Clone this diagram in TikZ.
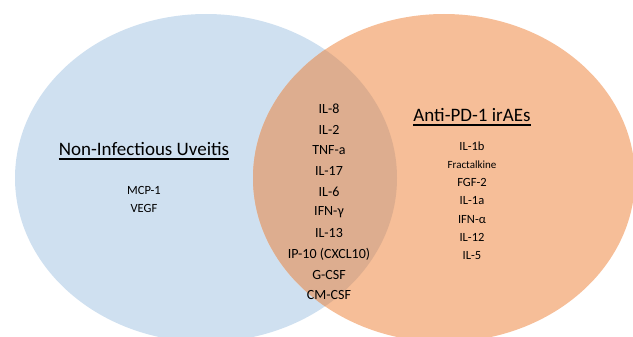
\documentclass[tikz,border=0pt]{standalone}
\usepackage{fontspec}
\setmainfont{Carlito}
\definecolor{vblue}{RGB}{207,224,240}
\definecolor{vorange}{RGB}{246,190,152}
\definecolor{vmix}{RGB}{221,173,143}
\begin{document}
\begin{tikzpicture}[x=1pt,y=-1pt,
  title/.style={inner sep=0pt,anchor=base,font=\fontsize{19}{22}\selectfont},
  item/.style={inner sep=0pt,anchor=center,font=\fontsize{12.5}{14}\selectfont},
  mid/.style={inner sep=0pt,anchor=center,font=\fontsize{14}{16}\selectfont},
  uline/.style={line width=1.2pt}]
\useasboundingbox (0,0) rectangle (633,337);
\begin{scope}
\clip (0,0) rectangle (633,337);
\fill[vblue] (206,178) ellipse [x radius=191, y radius=164];
\fill[vorange] (444,178) ellipse [x radius=191, y radius=164];
\begin{scope}
\clip (206,178) ellipse [x radius=191, y radius=164];
\fill[vmix] (444,178) ellipse [x radius=191, y radius=164];
\end{scope}
\end{scope}
% left
\node[title] (lt) at (144,156) {Non-Infectious Uveitis};
\draw[uline] ([yshift=-3pt]lt.base west) -- ([yshift=-3pt]lt.base east);
\node[item] (l1) at (144,190) {MCP-1};
\node[item] (l2) at (144,208.5) {VEGF};
% middle
\foreach \t [count=\i from 0] in {IL-8,IL-2,TNF-a,IL-17,IL-6,IFN-γ,IL-13,IP-10 (CXCL10),G-CSF,CM-CSF}
  \node[mid] (m\i) at (329,109+20.7*\i) {\t};
% right
\node[title] (rt) at (472,122) {Anti-PD-1 irAEs};
\draw[uline] ([yshift=-3pt]rt.base west) -- ([yshift=-3pt]rt.base east);
\node[item] (r1) at (472,146) {IL-1b};
\node[item,font=\fontsize{11}{13}\selectfont] (r2) at (472,164.3) {Fractalkine};
\node[item] (r3) at (472,182.6) {FGF-2};
\node[item] (r4) at (472,200.9) {IL-1a};
\node[item] (r5) at (472,219.2) {IFN-α};
\node[item] (r6) at (472,237.5) {IL-12};
\node[item] (r7) at (472,255.8) {IL-5};
\end{tikzpicture}
\end{document}
